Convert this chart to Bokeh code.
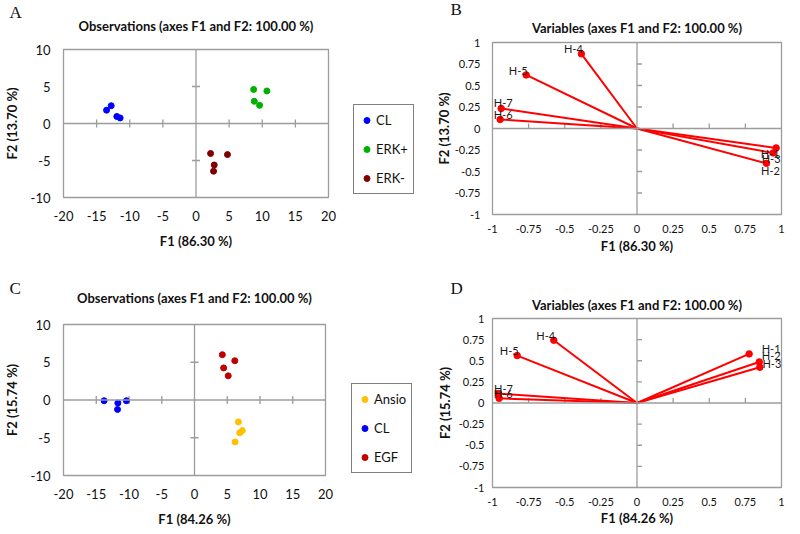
import math
from bokeh.plotting import figure
from bokeh.layouts import row, column
from bokeh.models import (ColumnDataSource, Range1d, SingleIntervalTicker, NumeralTickFormatter,
                          LabelSet, Legend, LegendItem, Span, Title)
from bokeh.core.properties import value
from bokeh.embed import file_html
from bokeh.resources import INLINE

# ---------------- data ----------------
# Panel A: observations (F1 86.30 %, F2 13.70 %)
a_groups = ["CL", "ERK+", "ERK-"]
a_cl_x = [-13.5, -12.8, -11.95, -11.45]
a_cl_y = [1.8, 2.4, 0.95, 0.75]
a_erkp_x = [8.7, 10.7, 8.8, 9.6]
a_erkp_y = [4.6, 4.4, 3.0, 2.45]
a_erkm_x = [2.2, 4.75, 2.75, 2.65]
a_erkm_y = [-4.05, -4.2, -5.6, -6.45]

# Panel C: observations (F1 84.26 %, F2 15.74 %)
c_groups = ["Ansio", "CL", "EGF"]
c_ansio_x = [6.7, 7.3, 6.9, 6.2]
c_ansio_y = [-2.9, -4.05, -4.35, -5.55]
c_cl_x = [-13.8, -11.7, -11.75, -10.4]
c_cl_y = [-0.1, -0.4, -1.25, -0.1]
c_egf_x = [4.25, 6.15, 4.45, 5.15]
c_egf_y = [6.0, 5.2, 4.25, 3.2]

# Panels B and D: variables
var_names = ["H-1", "H-2", "H-3", "H-4", "H-5", "H-6", "H-7"]
b_f1 = [0.963, 0.896, 0.942, -0.385, -0.767, -0.947, -0.940]
b_f2 = [-0.226, -0.405, -0.284, 0.868, 0.623, 0.105, 0.233]
d_f1 = [0.776, 0.846, 0.850, -0.576, -0.829, -0.954, -0.959]
d_f2 = [0.581, 0.486, 0.423, 0.743, 0.561, 0.055, 0.111]

# ticks on the central cross
obs_x_ticks = [-15, -10, -5, 5, 10, 15]
obs_y_ticks = [-5, 5]
var_ticks = [-0.75, -0.5, -0.25, 0.25, 0.5, 0.75]

# label placement (pixels) for the variable names
b_lab_dx = [-6, 4, -2, -8, -8, 3, 2]
b_lab_dy = [-6, -7, -6, 5, 4, 5, 6]
d_lab_dx = [22, 12, 12, -8, -8, 4, 5]
d_lab_dy = [5, 6, 4, 5, 5, 5, 5]

obs_x_range = (-20, 20)
obs_y_range = (-10, 10)
var_range = (-1, 1)

# ---------------- styles ----------------
GRAY = "#9c9c9c"
FONT = "Lato"
SERIF = "Liberation Serif"
A_COLORS = ["#0000ff", "#00b000", "#800000"]
C_COLORS = ["#ffc000", "#0000ff", "#c00000"]


def safe_standoff(t, v):
    try:
        t.standoff = v
    except ValueError:
        t.standoff = 0


def base_fig(width, height, left, right, top, bottom, xr, yr, step, tick_size,
             xlabel, ylabel, xts, xls, yts, yls, fmt,
             title, t_offset, t_standoff, letter, l_offset, l_standoff):
    p = figure(width=width, height=height,
               min_border_left=left, min_border_right=right,
               min_border_top=top, min_border_bottom=bottom,
               x_range=Range1d(*xr), y_range=Range1d(*yr),
               toolbar_location=None, tools="", output_backend="svg")
    p.grid.visible = False
    p.outline_line_color = GRAY
    p.outline_line_width = 1.3
    p.background_fill_color = "white"
    p.border_fill_color = "white"
    for ax, lab, ts, ls in ((p.xaxis[0], xlabel, xts, xls), (p.yaxis[0], ylabel, yts, yls)):
        ax.ticker = SingleIntervalTicker(interval=step, num_minor_ticks=0)
        ax.formatter = fmt
        ax.axis_label = lab
        ax.axis_line_color = None
        ax.major_tick_line_color = None
        ax.minor_tick_line_color = None
        ax.major_tick_out = 0
        ax.major_tick_in = 0
        ax.minor_tick_out = 0
        ax.minor_tick_in = 0
        ax.major_label_text_font = FONT
        ax.major_label_text_font_size = tick_size
        ax.major_label_text_color = "#111111"
        ax.major_label_standoff = ts
        ax.axis_label_text_font = FONT
        ax.axis_label_text_font_style = "bold"
        ax.axis_label_text_font_size = "13px"
        ax.axis_label_text_color = "#111111"
        ax.axis_label_standoff = ls
    # panel letter: outermost title
    p.title.text = letter
    p.title.align = "left"
    p.title.text_font = SERIF
    p.title.text_font_size = "17px"
    p.title.text_font_style = "normal"
    p.title.text_color = "#111111"
    p.title.offset = l_offset
    safe_standoff(p.title, l_standoff)
    # chart title: next to the frame
    t = Title(text=title, align="center", offset=t_offset, text_font=FONT,
              text_font_size="13px", text_font_style="bold", text_color="#111111")
    safe_standoff(t, t_standoff)
    p.add_layout(t, "above")
    # central cross
    p.add_layout(Span(location=0, dimension="width", line_color=GRAY, line_width=1.3))
    p.add_layout(Span(location=0, dimension="height", line_color=GRAY, line_width=1.3))
    return p


def cross_ticks_both(p, xt, yt, size):
    p.scatter(x=xt, y=[0] * len(xt), marker="dash", size=size, angle=math.pi / 2,
              line_color=GRAY, line_width=1.3)
    p.scatter(x=[0] * len(yt), y=yt, marker="dash", size=size, angle=0,
              line_color=GRAY, line_width=1.3)


def cross_ticks_one(p, ticks, length):
    p.ray(x=ticks, y=[0] * len(ticks), length=length, length_units="screen",
          angle=math.pi / 2, line_color=GRAY, line_width=1.3)
    p.ray(x=[0] * len(ticks), y=ticks, length=length, length_units="screen",
          angle=0, line_color=GRAY, line_width=1.3)


def legend_fig(width, height, top, bottom, groups, colors, xs, ys, loc):
    # narrow companion plot that holds the group legend beside the scatter plot;
    # its glyphs reuse the group data, which lies outside this plot's view
    q = figure(width=width, height=height, min_border_left=0, min_border_right=0,
               min_border_top=top, min_border_bottom=bottom,
               x_range=Range1d(0, 1), y_range=Range1d(0, 1),
               x_axis_location=None, y_axis_location=None,
               toolbar_location=None, tools="", output_backend="svg")
    q.grid.visible = False
    q.outline_line_color = None
    q.background_fill_color = "white"
    q.border_fill_color = "white"
    items = []
    for g, c, x, y in zip(groups, colors, xs, ys):
        r = q.scatter(x=x, y=y, size=6, color=c)
        items.append(LegendItem(label=g, renderers=[r]))
    leg = Legend(items=items, location=loc, margin=0, padding=5, spacing=9,
                 glyph_width=15, glyph_height=20, label_height=20, label_standoff=2,
                 label_text_font=FONT, label_text_font_size="13px",
                 label_text_color="#111111", border_line_color="black",
                 border_line_width=1.5, background_fill_color="white",
                 background_fill_alpha=1.0)
    q.add_layout(leg)
    return q


def variables_panel(p, f1, f2, dx, dy):
    src = ColumnDataSource(dict(x=f1, y=f2, x0=[0] * len(f1), y0=[0] * len(f2),
                                name=var_names, dx=dx, dy=dy))
    p.segment(x0="x0", y0="y0", x1="x", y1="y", source=src,
              line_color="#ff0000", line_width=2)
    p.scatter(x="x", y="y", source=src, size=6.5, fill_color="#ff0000",
              line_color="#ff0000")
    p.add_layout(LabelSet(x="x", y="y", text="name", source=src,
                          x_offset="dx", y_offset="dy",
                          text_font=value(FONT), text_font_size="11px",
                          text_color="#1a1a1a", text_align="center",
                          text_baseline="middle"))


obs_fmt = NumeralTickFormatter(format="0")
var_fmt = NumeralTickFormatter(format="0.[00]")
OBS_TITLE = "Observations (axes F1 and F2: 100.00 %)"
VAR_TITLE = "Variables (axes F1 and F2: 100.00 %)"

# ---------------- Panel A ----------------
pa = base_fig(340, 267, 62, 12, 47, 70, obs_x_range, obs_y_range, 5, "13px",
              "F1 (86.30 %)", "F2 (13.70 %)", 13, 9, 13, 8, obs_fmt,
              OBS_TITLE, 4, 31, "A", -54, -43)
cross_ticks_both(pa, obs_x_ticks, obs_y_ticks, 8)
pa.scatter(a_cl_x, a_cl_y, size=6, color=A_COLORS[0])
pa.scatter(a_erkp_x, a_erkp_y, size=6, color=A_COLORS[1])
pa.scatter(a_erkm_x, a_erkm_y, size=6, color=A_COLORS[2])
pa_leg = legend_fig(80, 267, 47, 70, a_groups, A_COLORS,
                    [a_cl_x, a_erkp_x, a_erkm_x], [a_cl_y, a_erkp_y, a_erkm_y], (13, 3))

# ---------------- Panel B ----------------
pb = base_fig(380, 267, 72, 19, 42, 53, var_range, var_range, 0.25, "11px",
              "F1 (86.30 %)", "F2 (13.70 %)", 10, 2, 12, 0, var_fmt,
              VAR_TITLE, -11, 13, "B", -42, -15)
cross_ticks_one(pb, var_ticks, 5)
variables_panel(pb, b_f1, b_f2, b_lab_dx, b_lab_dy)

# ---------------- Panel C ----------------
pc = base_fig(340, 267, 62, 15, 57, 59, obs_x_range, obs_y_range, 5, "13px",
              "F1 (84.26 %)", "F2 (15.74 %)", 13, 9, 13, 8, obs_fmt,
              OBS_TITLE, 4, 37, "C", -54, -57)
cross_ticks_both(pc, obs_x_ticks, obs_y_ticks, 8)
pc.scatter(c_ansio_x, c_ansio_y, size=6, color=C_COLORS[0])
pc.scatter(c_cl_x, c_cl_y, size=6, color=C_COLORS[1])
pc.scatter(c_egf_x, c_egf_y, size=6, color=C_COLORS[2])
pc_leg = legend_fig(80, 267, 57, 59, c_groups, C_COLORS,
                    [c_ansio_x, c_cl_x, c_egf_x], [c_ansio_y, c_cl_y, c_egf_y], (11, 2))

# ---------------- Panel D ----------------
pd_ = base_fig(380, 267, 72, 19, 51, 47, var_range, var_range, 0.25, "11px",
               "F1 (84.26 %)", "F2 (15.74 %)", 10, 1, 8, 3, var_fmt,
               VAR_TITLE, -16, 11, "D", -42, -16)
cross_ticks_one(pd_, var_ticks, 5)
variables_panel(pd_, d_f1, d_f2, d_lab_dx, d_lab_dy)

layout = row(column(row(pa, pa_leg), row(pc, pc_leg)), column(pb, pd_))
open("out.html", "w").write(file_html(layout, INLINE))
